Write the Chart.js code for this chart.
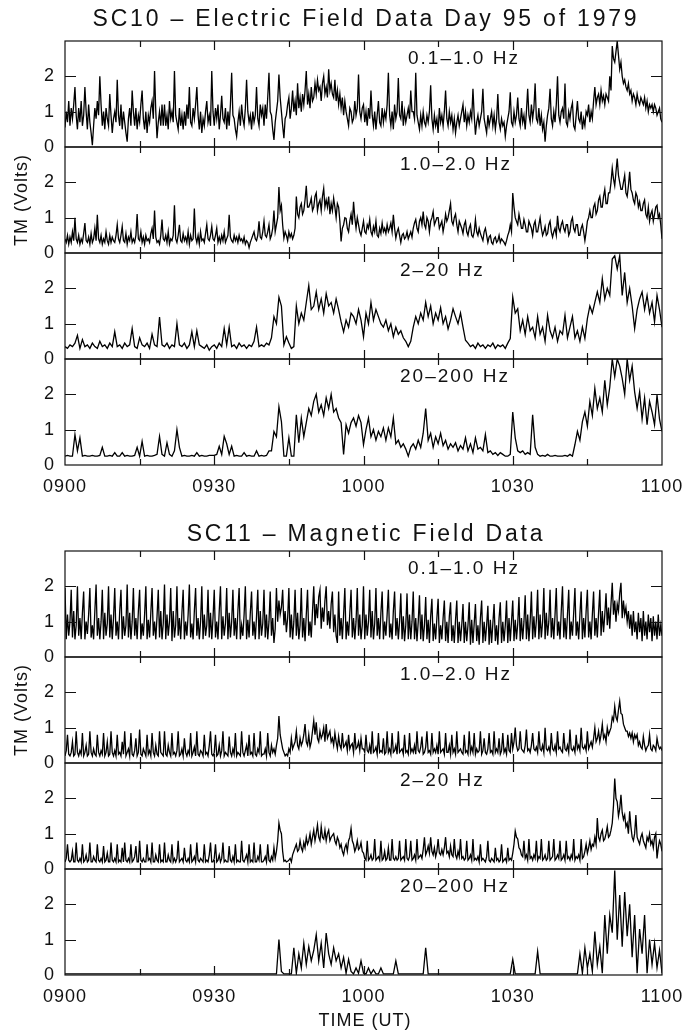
<!DOCTYPE html>
<html><head><meta charset="utf-8">
<script src="https://cdn.jsdelivr.net/npm/chart.js@4.4.0/dist/chart.umd.min.js"></script>
<style>
html,body{margin:0;padding:0;background:#fff;}
#page{position:relative;width:688px;height:1030px;overflow:hidden;font-family:'Liberation Sans',Arial,sans-serif;color:#111;}
canvas{position:absolute;left:0;}
.t{position:absolute;white-space:nowrap;transform:translate(-50%,-50%);}
.pl{position:absolute;white-space:nowrap;font-size:19px;letter-spacing:2px;line-height:20px;}
</style></head><body><div id="page"></div>
<script>
// ---- time axes (minutes after 09:00 UT) ----
const TIME_FINE = Array.from({length: 481}, (_, i) => i * 0.25);   // every 15 s
const TIME_COARSE = Array.from({length: 241}, (_, i) => i * 0.5);  // every 30 s
const X_LABEL_MIN = [0, 30, 60, 90, 120];
const X_LABELS = ['0900', '0930', '1000', '1030', '1100'];
const X_TICK_MIN = [15, 30, 45, 60, 75, 90, 105];
const Y_TICKS = [1, 2];
const BANDS = ['0.1–1.0 Hz', '1.0–2.0 Hz', '2–20 Hz', '20–200 Hz'];

// ---- SC10 electric field (TM volts) ----
const E_01_1 = [ // 15 s samples
0.55,1.0,0.7,1.3,0.6,1.1,0.8,1.2,1.7,0.9, 0.5,1.1,0.7,1.3,0.6,0.9,1.7,1.0,0.5,1.2, 0.7,0.4,0.05,0.6,1.1,0.8,1.3,0.9,2.0,1.2, 0.6,1.0,0.5,1.1,0.8,0.6,1.5,0.9,0.4,0.8,
1.0,0.7,1.9,0.9,0.6,1.2,0.5,1.0,0.7,0.4, 0.15,0.8,1.1,0.6,1.6,1.0,0.6,1.1,0.5,0.9, 0.7,1.2,1.6,0.8,0.5,1.0,0.4,0.9,0.7,1.1, 1.3,0.8,2.15,1.0,0.25,0.7,1.0,0.6,1.2,0.6,
1.2,0.6,0.9,0.5,1.3,0.8,1.0,0.7,2.15,0.9, 0.7,0.5,1.1,0.6,0.9,0.5,1.0,0.6,1.2,0.8, 1.7,0.7,0.6,1.1,0.8,1.2,1.7,0.9,0.5,1.0, 0.4,0.8,0.6,1.0,1.3,0.7,0.9,0.6,2.15,1.0,
0.6,1.1,0.8,1.2,0.5,0.9,1.45,0.8,0.7,1.1, 0.5,1.0,0.6,1.2,2.1,0.9,0.8,0.5,0.3,0.7, 1.0,0.6,1.2,0.8,0.6,1.1,1.9,1.0,0.7,0.9, 0.5,1.0,0.7,0.9,1.7,0.8,0.6,1.2,0.9,1.1,
0.6,1.2,0.8,1.4,2.1,1.0,0.9,0.5,0.2,0.7, 1.0,1.3,2.05,1.4,1.0,0.6,0.25,0.8,0.9,1.2, 1.4,0.8,1.1,1.6,1.0,1.3,0.9,1.8,1.1,1.4, 1.0,1.5,1.2,1.6,2.15,1.2,1.5,1.1,1.7,1.3,
1.4,1.8,1.5,1.9,1.6,1.7,1.3,1.8,2.0,1.5, 1.7,1.4,2.2,1.6,1.8,1.5,1.4,1.9,1.3,1.6, 1.2,1.5,1.1,1.4,0.9,1.3,1.0,0.8,0.6,1.1, 1.0,0.7,0.8,1.3,0.9,1.1,2.05,1.0,0.8,1.1,
1.2,0.7,1.0,0.6,1.1,0.8,1.6,0.9,0.6,1.0, 0.5,0.9,1.3,0.7,0.6,1.1,0.7,1.0,0.8,1.2, 2.1,0.9,0.6,1.0,0.5,1.2,0.8,1.0,1.95,0.9, 0.8,1.3,0.6,1.0,0.7,0.9,1.1,0.8,1.6,1.0,
1.0,0.8,2.1,0.9,0.7,0.5,0.9,0.6,1.0,0.7, 0.6,0.9,0.7,1.0,1.75,0.8,0.5,0.9,0.6,0.8, 0.4,1.1,0.7,0.9,0.6,1.0,1.6,0.8,0.6,1.0, 0.7,0.9,0.5,0.8,0.4,0.7,0.9,0.6,0.8,1.0,
1.2,0.7,1.0,0.6,0.9,0.7,1.0,0.8,1.65,0.9, 0.35,0.7,0.9,0.6,0.8,1.0,1.65,0.8,0.6,0.4, 0.9,0.6,0.8,1.0,0.6,0.9,0.5,0.8,1.5,0.7, 0.5,0.8,0.6,0.7,0.3,0.6,0.8,1.0,1.55,0.7,
0.6,1.0,0.7,0.9,1.4,0.8,0.6,1.1,0.7,0.9, 0.5,1.0,1.65,0.9,0.7,1.2,0.8,1.1,1.8,0.8, 0.7,1.1,0.6,0.9,0.5,0.7,0.15,0.6,0.9,1.1, 1.65,0.8,0.6,1.0,0.7,1.2,2.0,0.9,0.7,1.0,
1.1,0.8,1.8,0.7,0.6,1.0,0.8,1.1,1.25,0.6, 0.5,0.9,1.3,0.8,0.7,1.0,0.5,0.8,0.6,1.0, 0.9,1.2,0.7,1.0,0.8,1.3,1.7,1.2,1.4,1.5, 1.2,1.6,1.3,1.45,1.2,1.5,1.4,1.3,2.0,1.6,
2.86,2.5,2.4,2.7,3.0,2.6,2.2,2.4,2.0,1.8, 1.9,1.7,1.6,1.8,1.5,1.6,1.3,1.5,1.4,1.2, 1.5,1.3,1.2,1.4,1.3,1.2,1.4,1.1,1.3,1.0, 1.2,1.1,1.2,1.0,1.2,1.1,0.9,1.0,1.1,0.8,
0.7];
const E_1_2 = [ // 15 s samples
0.4,0.3,0.5,0.25,0.45,0.3,0.6,0.35,1.0,0.4, 0.3,0.5,0.25,0.4,0.3,0.55,0.85,0.35,0.3,0.45, 0.25,0.55,0.3,0.4,0.7,0.35,1.08,0.4,0.3,0.5, 0.25,0.4,0.3,0.6,0.35,0.25,0.5,0.3,0.45,0.35,
0.3,0.5,0.8,0.4,0.3,0.5,0.75,0.35,0.3,0.55, 0.25,0.45,0.35,0.6,0.3,0.4,0.3,0.5,1.1,0.4, 0.35,0.6,0.3,0.45,0.25,0.5,0.35,0.4,0.3,0.55, 0.7,0.4,1.2,0.45,0.3,0.35,0.25,0.5,0.95,0.4,
0.35,0.5,0.3,0.6,0.25,0.4,0.35,0.5,1.35,0.4, 0.3,0.5,0.8,0.35,0.3,0.55,0.35,0.45,0.3,0.6, 0.25,0.5,0.35,0.4,1.26,0.45,0.3,0.5,0.25,0.6, 0.35,0.4,0.3,0.55,0.8,0.4,0.35,0.5,0.75,0.4,
0.35,0.5,0.7,0.3,0.45,0.3,0.5,0.35,0.6,0.3, 0.4,0.5,1.08,0.45,0.35,0.3,0.5,0.35,0.45,0.3, 0.5,0.35,0.4,0.3,0.45,0.25,0.35,0.3,0.15,0.3, 0.4,0.5,0.6,0.4,0.35,0.5,0.9,0.45,0.4,0.6,
0.9,0.5,0.45,0.6,0.8,0.4,0.5,0.7,1.2,0.6, 0.8,1.0,1.87,1.2,1.35,0.8,0.42,0.6,0.5,0.35, 0.6,0.45,0.55,0.4,0.5,0.7,1.6,1.1,1.0,1.3, 1.4,1.1,1.2,1.5,1.9,1.3,1.3,1.4,1.55,1.2,
1.3,1.6,1.7,1.2,1.4,1.5,1.2,1.6,1.83,1.3, 1.5,1.3,1.6,1.1,1.4,1.2,1.55,1.3,1.0,1.4, 1.3,0.9,0.33,0.7,0.8,1.0,0.98,0.7,0.6,0.9, 1.1,0.8,1.45,1.0,0.7,1.0,0.8,0.6,0.5,0.7,
0.9,0.6,0.55,0.8,0.7,0.95,0.6,0.5,0.75,0.6, 0.9,0.5,0.45,0.7,0.55,0.85,0.6,0.7,0.55,0.8, 0.6,0.7,0.85,0.6,1.08,0.7,0.42,0.6,0.7,0.5, 0.3,0.5,0.55,0.4,0.45,0.6,0.4,0.5,0.6,0.45,
0.7,0.85,0.95,0.7,0.6,0.9,1.0,0.8,1.17,0.8, 0.7,1.0,0.9,0.6,0.9,1.0,1.17,0.8,0.9,1.0, 1.0,0.7,0.8,0.9,0.6,0.8,1.1,0.9,1.0,1.2, 1.4,0.9,0.8,1.0,1.1,0.8,0.6,0.9,0.8,0.7,
0.55,0.8,0.9,0.6,0.5,0.7,0.8,0.5,0.45,0.6, 0.95,0.6,0.5,0.7,0.55,0.45,0.35,0.6,0.7,0.5, 0.3,0.45,0.5,0.3,0.25,0.4,0.45,0.3,0.35,0.5, 0.3,0.4,0.35,0.3,0.23,0.35,0.5,0.6,0.8,0.6,
1.7,1.3,1.0,0.9,0.8,1.1,0.9,0.7,0.7,0.95, 0.8,0.6,0.6,0.9,0.8,0.7,0.5,0.8,0.9,0.6, 0.6,0.8,1.0,0.7,0.5,0.6,0.75,0.5,0.55,0.8, 0.9,0.6,0.45,0.6,0.7,0.5,1.05,0.7,0.6,0.8,
0.9,0.7,0.6,0.8,0.8,0.5,0.6,0.9,1.0,0.7, 0.6,0.8,0.8,0.5,0.5,0.7,0.8,0.6,0.35,0.6, 0.9,1.0,1.2,1.0,1.0,1.3,1.4,1.1,1.2,1.5, 1.6,1.3,1.3,1.6,1.8,1.4,1.4,1.7,1.7,2.0,
2.4,2.1,1.9,2.3,2.67,2.2,2.0,1.8,1.8,2.0, 2.2,1.7,1.6,1.9,2.3,1.8,1.7,1.5,1.4,1.7, 1.6,1.3,1.45,1.2,1.2,1.4,1.5,1.1,1.0,1.3, 0.9,1.1,1.2,0.9,1.1,1.3,1.35,1.0,1.1,0.8,
0.4];
const E_2_20 = [ // 30 s samples
0.35,0.3,0.4,0.35,0.45,0.67,0.3,0.55,0.35,0.4,0.3,0.45,0.35,0.3,0.5,0.35,0.4,0.3,0.45,0.35,
0.77,0.35,0.4,0.3,0.45,0.35,0.4,0.86,0.35,0.3,0.6,0.4,0.35,0.45,0.3,0.7,0.4,0.35,1.19,0.4,
0.35,0.45,0.3,0.4,0.35,1.0,0.4,0.35,0.45,0.3,0.4,0.77,0.35,0.8,0.4,0.35,0.3,0.4,0.25,0.35,
0.4,0.3,0.45,0.35,0.86,0.4,0.9,0.35,0.4,0.3,0.45,0.35,0.4,0.3,0.4,0.35,0.5,0.9,0.35,0.4,
0.35,0.45,0.4,0.6,1.2,1.0,1.75,1.5,0.4,0.63,0.45,0.3,0.35,1.5,1.0,1.3,1.1,1.6,2.08,1.4,
1.5,1.9,1.4,1.7,1.3,1.85,1.5,1.6,1.3,1.7,1.4,1.05,0.77,1.1,0.9,1.3,1.2,1.0,1.4,1.1,
0.63,1.3,1.0,1.6,1.1,1.4,1.2,1.0,0.9,1.1,0.8,1.0,0.63,0.9,0.7,0.8,0.6,0.5,0.35,0.5,
0.9,1.2,1.0,1.3,1.1,1.6,1.2,1.5,1.0,1.3,1.1,1.45,1.0,1.2,0.85,1.1,1.42,1.2,1.0,1.3,
0.9,0.53,0.45,0.35,0.4,0.3,0.45,0.35,0.4,0.3,0.4,0.35,0.45,0.3,0.4,0.35,0.4,0.3,0.45,0.58,
1.75,1.3,1.42,0.8,1.1,0.7,1.2,0.8,0.9,0.6,1.2,0.7,0.9,0.5,1.24,0.8,0.6,0.9,0.5,0.8,
0.7,1.24,0.6,0.9,1.2,0.6,0.8,0.5,0.9,0.58,1.14,1.5,1.3,1.6,1.9,1.6,2.27,1.7,2.0,1.8,
2.83,2.92,2.55,2.92,1.8,2.45,1.6,2.0,1.5,0.86,1.4,1.7,1.9,1.4,1.8,1.3,1.6,1.05,1.8,1.4,
0.9];
const E_20_200 = [ // 30 s samples
0.25,0.27,0.25,0.25,0.86,0.4,0.77,0.25,0.27,0.25,0.25,0.27,0.25,0.25,0.27,0.5,0.25,0.25,0.27,0.25,
0.35,0.25,0.25,0.35,0.25,0.27,0.25,0.25,0.27,0.5,0.25,0.67,0.25,0.27,0.25,0.25,0.27,0.3,0.81,0.3,
0.25,0.63,0.3,0.25,0.4,1.0,0.5,0.25,0.27,0.25,0.25,0.27,0.25,0.35,0.25,0.27,0.25,0.25,0.27,0.27,
0.27,0.3,0.53,0.3,0.81,0.6,0.3,0.53,0.25,0.27,0.25,0.25,0.35,0.25,0.27,0.25,0.25,0.4,0.25,0.27,
0.25,0.27,0.4,0.4,0.95,0.8,1.65,1.23,0.25,0.25,0.77,0.25,0.25,1.42,0.63,1.33,0.8,1.2,1.6,1.4,
1.8,2.0,1.5,1.7,1.4,1.9,1.6,2.0,1.5,1.6,1.33,1.2,0.3,1.14,0.9,1.2,1.33,1.1,1.4,1.2,
0.58,1.0,1.33,0.8,1.0,0.7,0.95,0.8,1.05,0.7,1.05,0.8,1.33,0.6,0.7,0.5,0.6,0.45,0.25,0.5,
0.6,0.45,0.7,0.5,0.9,1.6,0.7,0.9,0.5,0.8,0.6,0.9,0.55,0.7,0.45,0.6,0.5,0.63,0.4,0.55,
0.45,0.77,0.4,0.6,0.35,0.77,0.45,0.5,0.4,0.86,0.35,0.4,0.3,0.35,0.27,0.35,0.3,0.25,0.25,0.3,
1.5,0.77,0.4,0.35,0.4,0.3,0.35,0.3,1.42,0.5,0.3,0.25,0.27,0.25,0.3,0.25,0.25,0.27,0.25,0.25,
0.25,0.27,0.25,0.3,0.25,0.58,0.95,0.7,1.23,1.5,1.1,1.8,1.4,2.17,1.6,1.9,1.5,2.4,1.7,2.2,
3.0,2.5,3.0,2.8,2.45,2.0,3.0,2.4,2.8,2.07,1.6,2.07,1.3,1.9,1.14,1.8,1.5,1.14,1.98,1.3,
0.95];

// ---- SC11 magnetic field (TM volts) ----
const B_01_1 = [ // 15 s samples
1.95,0.5,1.2,0.6,1.0,1.9,0.55,1.3,0.5,0.9, 2.0,0.6,1.1,0.5,1.25,1.85,0.5,1.0,0.65,1.2, 1.95,0.55,0.9,0.5,1.3,2.05,0.6,1.1,0.5,1.0, 1.9,0.5,1.25,0.6,0.95,2.0,0.55,1.2,0.5,1.1,
1.95,0.6,1.0,0.5,1.3,1.9,0.5,1.15,0.6,0.9, 2.05,0.55,1.25,0.5,1.0,1.95,0.6,1.1,0.5,1.3, 1.9,0.5,0.95,0.6,1.2,2.0,0.5,1.05,0.55,1.25, 1.95,0.6,1.0,0.5,1.15,1.9,0.55,1.3,0.5,0.95,
2.05,0.5,1.2,0.6,1.0,1.95,0.45,1.3,0.55,0.9, 2.0,0.6,1.1,0.5,1.25,1.9,0.5,1.0,0.6,1.2, 2.05,0.55,0.95,0.5,1.3,1.95,0.6,1.1,0.5,1.0, 2.0,0.5,1.2,0.6,0.9,1.9,0.55,1.25,0.5,1.1,
1.9,0.55,1.0,0.5,1.3,2.0,0.5,1.15,0.6,0.95, 1.95,0.5,1.25,0.55,1.0,1.9,0.6,1.1,0.5,1.3, 1.95,0.5,0.9,0.6,1.2,2.0,0.5,1.05,0.55,1.25, 1.85,0.6,1.0,0.5,1.15,1.9,0.5,1.3,0.6,0.95,
1.9,0.55,1.2,0.5,1.0,1.85,0.6,1.1,0.4,0.8, 1.95,1.0,1.6,1.2,1.4,1.9,0.9,1.3,0.7,1.1, 1.95,0.55,1.2,0.5,1.0,1.9,0.6,1.25,0.5,0.9, 1.95,0.55,1.1,0.45,1.2,1.9,0.6,1.0,0.55,1.3,
2.0,0.9,1.5,1.1,1.7,1.9,0.8,1.4,1.0,1.6, 2.0,0.9,1.3,0.8,1.5,1.85,0.7,1.2,0.6,0.4, 1.85,0.6,1.1,0.5,1.2,1.95,0.5,1.0,0.6,1.25, 1.9,0.55,1.1,0.5,1.0,1.95,0.6,1.2,0.5,0.9,
2.0,0.5,1.2,0.6,1.0,1.9,0.55,1.3,0.5,0.95, 1.95,0.6,1.1,0.5,1.25,1.85,0.5,1.0,0.6,1.2, 1.9,0.55,0.95,0.5,1.3,1.85,0.6,1.1,0.5,1.0, 1.8,0.5,1.15,0.45,0.9,1.8,0.5,1.2,0.5,1.0,
1.85,0.5,1.1,0.45,1.0,1.75,0.5,1.2,0.45,0.9, 1.7,0.5,1.05,0.4,1.15,1.65,0.45,0.95,0.5,1.1, 1.65,0.4,0.9,0.5,1.1,1.6,0.45,1.0,0.4,1.15, 1.55,0.45,0.9,0.4,1.05,1.6,0.4,1.0,0.45,0.9,
1.5,0.4,1.0,0.45,0.9,1.55,0.35,1.05,0.4,0.95, 1.5,0.45,0.9,0.35,1.1,1.6,0.4,1.0,0.45,0.9, 1.45,0.35,1.05,0.4,0.95,1.5,0.45,0.9,0.35,1.1, 1.55,0.4,1.0,0.45,0.9,1.6,0.4,1.1,0.45,1.0,
1.6,0.45,1.05,0.5,0.95,1.7,0.45,1.1,0.5,1.0, 1.75,0.5,1.2,0.45,1.0,1.85,0.5,1.15,0.55,1.05, 1.9,0.5,1.2,0.55,1.0,1.95,0.5,1.25,0.6,1.0, 1.9,0.55,1.1,0.5,1.2,1.95,0.6,1.0,0.5,1.3,
2.0,0.55,1.1,0.5,1.2,1.9,0.5,1.0,0.6,1.25, 1.95,0.6,1.0,0.5,1.2,1.85,0.5,1.1,0.55,1.3, 1.9,0.55,1.0,0.5,1.2,1.85,0.6,1.1,0.55,1.25, 1.9,0.6,1.3,0.7,1.2,1.8,0.9,1.4,0.8,1.5,
2.1,1.2,1.6,1.0,1.5,1.3,1.8,2.1,1.1,1.6, 1.2,1.4,1.0,1.3,0.8,1.2,0.6,1.3,0.7,1.0, 0.5,1.25,0.7,1.1,0.45,1.3,0.6,1.0,0.5,1.2, 0.7,1.1,0.45,1.15,0.6,1.0,0.5,1.2,0.6,0.9,
0.6];
const B_1_2 = [ // 15 s samples
0.2,0.35,0.8,0.25,0.2,0.3,0.6,0.2,0.25,0.9, 0.3,0.2,0.35,0.25,0.85,0.2,0.3,0.5,0.2,0.25, 0.9,0.3,0.2,0.4,0.25,0.2,0.8,0.3,0.2,0.35, 0.25,0.85,0.2,0.3,0.6,0.2,0.25,0.9,0.3,0.2,
0.35,0.2,0.8,0.25,0.3,0.2,0.6,0.25,0.9,0.2, 0.3,0.4,0.2,0.85,0.25,0.2,0.35,0.7,0.2,0.3, 0.95,0.25,0.2,0.4,0.3,0.2,0.8,0.25,0.35,0.2, 0.85,0.3,0.2,0.5,0.25,0.2,0.9,0.3,0.25,0.2,
0.9,0.25,0.2,0.5,0.3,0.2,0.85,0.25,0.3,0.2, 0.35,0.9,0.2,0.25,0.4,0.2,0.7,0.3,0.2,0.35, 0.25,0.85,0.2,0.3,0.45,0.2,0.9,0.25,0.2,0.35, 0.3,0.2,0.8,0.25,0.3,0.2,0.5,0.9,0.25,0.2,
0.3,0.8,0.2,0.25,0.5,0.2,0.35,0.9,0.2,0.3, 0.25,0.2,0.75,0.3,0.2,0.4,0.25,0.85,0.2,0.3, 0.25,0.2,0.9,0.3,0.2,0.35,0.5,0.2,0.8,0.25, 0.3,0.2,0.85,0.25,0.2,0.4,0.3,0.9,0.2,0.25,
0.25,0.4,0.2,0.85,0.3,0.2,0.5,0.3,0.4,0.25, 0.5,0.7,1.33,0.8,0.6,0.4,0.3,0.2,0.25,0.2, 0.4,0.3,0.7,0.4,0.5,0.6,0.9,0.5,0.4,0.7, 0.5,0.6,0.8,1.1,0.6,0.5,0.8,0.45,0.6,0.9,
1.2,0.8,1.15,0.7,0.6,0.9,0.7,0.8,1.0,0.6, 1.1,0.7,0.8,0.9,0.6,0.7,0.5,0.85,0.6,0.4, 0.75,0.5,0.4,0.85,0.45,0.5,0.6,0.35,0.8,0.4, 0.5,0.55,0.3,0.85,0.4,0.45,0.6,0.35,0.7,0.4,
0.4,0.3,0.8,0.35,0.3,0.5,0.25,0.9,0.3,0.35, 0.45,0.25,0.85,0.3,0.35,0.3,0.7,0.25,0.3,0.9, 0.3,0.4,0.25,0.85,0.3,0.35,0.5,0.25,0.9,0.3, 0.35,0.4,0.25,0.8,0.3,0.35,0.25,0.85,0.3,0.4,
0.3,0.5,0.25,0.9,0.35,0.3,0.45,0.75,0.25,0.3, 0.45,0.9,0.3,0.35,0.25,0.85,0.3,0.4,0.3,0.5, 0.25,0.9,0.3,0.35,0.4,0.25,0.85,0.3,0.3,0.5, 0.25,0.8,0.3,0.4,0.25,0.9,0.3,0.35,0.4,0.3,
0.25,0.8,0.3,0.35,0.25,0.9,0.3,0.45,0.3,0.85, 0.25,0.4,0.3,0.35,0.9,0.25,0.35,0.7,0.3,0.25, 0.4,0.85,0.3,0.35,0.25,0.9,0.3,0.4,0.3,0.7, 0.25,0.35,0.85,0.3,0.4,0.25,0.8,0.35,0.3,0.85,
0.4,0.6,1.0,0.5,0.35,0.4,0.9,0.4,0.35,0.3, 0.5,0.95,0.35,0.4,0.3,0.5,0.85,0.4,0.35,0.45, 0.3,0.9,0.4,0.35,0.5,0.3,1.0,0.4,0.35,0.45, 0.3,0.85,0.4,0.35,0.5,0.3,0.9,0.4,0.45,0.35,
0.3,0.85,0.4,0.35,0.5,0.3,0.95,0.4,0.35,0.45, 0.3,0.8,0.4,0.5,0.35,1.0,0.45,0.4,0.5,0.35, 0.9,0.4,0.5,0.6,0.45,0.7,1.0,0.6,0.7,0.9, 0.6,0.8,1.1,0.7,0.8,0.6,1.0,0.8,0.9,1.0,
1.3,1.2,1.6,1.3,1.2,1.5,1.75,1.4,1.37,1.1, 1.0,0.9,0.9,0.75,0.85,0.7,0.85,0.6,0.8,0.7, 0.8,0.5,0.6,0.45,0.4,0.75,0.5,0.35,0.45,0.5, 0.8,0.4,0.35,0.5,0.45,0.35,0.7,0.5,0.4,0.45,
0.35];
const B_2_20 = [ // 15 s samples
0.2,0.3,0.7,0.25,0.2,0.25,0.5,0.2,0.2,0.75, 0.25,0.2,0.3,0.2,0.7,0.2,0.25,0.4,0.2,0.25, 0.75,0.2,0.2,0.35,0.25,0.2,0.7,0.25,0.2,0.3, 0.2,0.65,0.2,0.25,0.45,0.2,0.2,0.75,0.25,0.2,
0.3,0.2,0.7,0.2,0.25,0.2,0.6,0.2,0.75,0.25, 0.2,0.3,0.2,0.7,0.2,0.25,0.35,0.65,0.2,0.2, 0.8,0.25,0.2,0.3,0.2,0.2,0.7,0.25,0.3,0.2, 0.75,0.2,0.2,0.4,0.25,0.2,0.7,0.2,0.25,0.2,
0.75,0.2,0.2,0.4,0.25,0.2,0.7,0.2,0.3,0.2, 0.3,0.8,0.2,0.25,0.3,0.2,0.6,0.25,0.2,0.3, 0.2,0.7,0.2,0.25,0.35,0.2,0.75,0.25,0.2,0.3, 0.25,0.2,0.7,0.2,0.25,0.2,0.4,0.75,0.2,0.2,
0.3,0.7,0.2,0.25,0.4,0.2,0.3,0.75,0.2,0.25, 0.2,0.2,0.65,0.25,0.2,0.35,0.2,0.7,0.2,0.25, 0.2,0.2,0.8,0.25,0.2,0.3,0.4,0.2,0.7,0.2, 0.25,0.2,0.75,0.2,0.2,0.35,0.25,0.7,0.2,0.2,
0.25,0.35,0.2,0.7,0.25,0.2,0.35,0.25,0.6,0.3, 0.5,0.8,1.3,1.1,1.0,0.5,0.22,0.25,0.2,0.22, 0.25,0.3,0.2,0.4,0.5,0.6,0.7,0.5,0.55,0.8, 0.6,0.5,0.75,0.6,0.9,0.7,0.8,1.0,0.7,0.9,
1.1,0.8,1.0,1.25,0.9,0.8,1.2,0.9,0.85,1.1, 0.8,1.0,1.1,0.8,0.9,0.95,1.0,0.8,0.7,0.9, 0.8,0.6,0.7,0.5,0.4,0.6,0.7,0.5,0.8,0.9, 1.15,0.8,0.7,0.5,0.6,0.8,0.55,0.6,0.75,0.5,
0.45,0.3,0.25,0.8,0.25,0.3,0.4,0.25,0.3,0.85, 0.25,0.3,0.35,0.25,0.8,0.25,0.3,0.5,0.25,0.3, 0.6,0.25,0.25,0.85,0.3,0.25,0.35,0.25,0.3,0.8, 0.25,0.3,0.35,0.25,0.85,0.3,0.25,0.35,0.8,0.25,
0.3,0.4,0.25,0.85,0.3,0.35,0.4,0.3,0.55,0.9, 0.4,0.5,0.65,0.45,0.9,0.5,0.4,0.6,0.35,0.5, 0.85,0.45,0.4,0.55,0.4,0.6,0.9,0.45,0.5,0.35, 0.65,0.4,0.35,0.85,0.4,0.3,0.5,0.35,0.85,0.3,
0.35,0.25,0.3,0.8,0.25,0.3,0.4,0.25,0.85,0.25, 0.3,0.25,0.35,0.2,0.7,0.25,0.3,0.25,0.2,0.35, 0.8,0.25,0.2,0.3,0.25,0.2,0.6,0.25,0.3,0.2, 0.25,0.7,0.2,0.25,0.3,0.2,0.6,0.25,0.3,0.25,
0.45,0.7,1.07,0.9,0.85,0.6,0.55,0.4,0.35,0.8, 0.3,0.4,0.25,0.85,0.3,0.35,0.25,0.4,0.3,0.8, 0.25,0.35,0.3,0.85,0.25,0.3,0.4,0.25,0.3,0.8, 0.25,0.3,0.35,0.85,0.25,0.3,0.4,0.3,0.8,0.25,
0.3,0.4,0.25,0.8,0.3,0.35,0.25,0.4,0.3,0.85, 0.25,0.35,0.3,0.4,0.25,0.85,0.3,0.35,0.5,0.7, 0.45,0.6,0.8,0.55,0.7,0.65,0.9,0.7,1.44,0.9, 0.8,1.0,1.1,0.8,0.85,1.0,1.2,0.9,0.95,1.1,
1.3,1.8,2.56,2.0,1.9,1.5,1.7,2.1,1.6,1.4, 1.53,1.2,1.3,1.0,1.63,1.2,0.9,0.8,1.0,1.53, 0.9,0.8,0.7,0.9,1.0,0.8,0.7,0.6,0.9,0.8, 1.0,0.7,0.8,0.6,0.9,1.0,0.3,0.6,0.8,0.7,
0.5];
const B_20_200 = [ // 30 s samples
0.03,0.03,0.03,0.03,0.03,0.03,0.03,0.03,0.03,0.03,0.03,0.03,0.03,0.03,0.03,0.03,0.03,0.03,0.03,0.03,
0.03,0.03,0.03,0.03,0.03,0.03,0.03,0.03,0.03,0.03,0.03,0.03,0.03,0.03,0.03,0.03,0.03,0.03,0.03,0.03,
0.03,0.03,0.03,0.03,0.03,0.03,0.03,0.03,0.03,0.03,0.03,0.03,0.03,0.03,0.03,0.03,0.03,0.03,0.03,0.03,
0.03,0.03,0.03,0.03,0.03,0.03,0.03,0.03,0.03,0.03,0.03,0.03,0.03,0.03,0.03,0.03,0.03,0.03,0.03,0.03,
0.03,0.03,0.03,0.03,0.03,0.03,1.0,0.1,0.03,0.03,0.03,0.03,0.77,0.05,0.6,0.2,0.9,0.3,0.8,0.4,
0.7,1.14,0.4,0.9,0.2,1.19,0.6,0.3,0.77,0.4,0.6,0.2,0.5,0.05,0.44,0.1,0.03,0.2,0.05,0.4,
0.05,0.03,0.2,0.03,0.15,0.03,0.03,0.2,0.03,0.03,0.03,0.03,0.03,0.4,0.03,0.03,0.03,0.03,0.03,0.03,
0.03,0.03,0.03,0.03,0.03,0.77,0.03,0.03,0.03,0.03,0.03,0.03,0.03,0.03,0.03,0.03,0.03,0.03,0.03,0.03,
0.03,0.03,0.03,0.03,0.03,0.03,0.03,0.03,0.03,0.03,0.03,0.03,0.03,0.03,0.03,0.03,0.03,0.03,0.03,0.03,
0.44,0.03,0.03,0.03,0.03,0.03,0.03,0.03,0.03,0.03,0.67,0.03,0.03,0.03,0.03,0.03,0.03,0.03,0.03,0.03,
0.03,0.03,0.03,0.03,0.03,0.03,0.03,0.6,0.05,0.77,0.2,0.6,0.1,1.23,0.3,0.8,0.05,1.7,0.6,1.7,
1.2,2.96,1.0,2.26,0.8,2.35,1.1,2.0,0.5,1.7,0.05,1.3,0.6,1.7,0.05,1.0,0.3,0.9,0.2,0.7,
0.05];

// ---- layout ----
const PAGE = document.getElementById('page');
const FONT = "'Liberation Sans', Arial, sans-serif";
const INK = '#111';
const PANEL_H = 106;
const PAD = 22;
const CANVAS_W = 708;   // extends past the page edge so the right-hand label padding never shrinks the plot
const PAD_RIGHT = CANVAS_W - 662;
const GROUPS = [
  { tops: [41, 147, 253, 359],
    series: [[E_01_1, TIME_FINE], [E_1_2, TIME_FINE], [E_2_20, TIME_COARSE], [E_20_200, TIME_COARSE]] },
  { tops: [551, 657, 763, 869],
    series: [[B_01_1, TIME_FINE], [B_1_2, TIME_FINE], [B_2_20, TIME_FINE], [B_20_200, TIME_COARSE]] }
];

Chart.defaults.font.family = FONT;
Chart.defaults.color = INK;

const framePlugin = {
  id: 'frame',
  beforeDraw(chart) { chart.ctx.letterSpacing = '1px'; },
  afterDatasetsDraw(chart) {
    const { ctx, chartArea: a, scales: { x, y } } = chart;
    ctx.save();
    ctx.strokeStyle = INK;
    ctx.lineWidth = 1.2;
    ctx.strokeRect(a.left, a.top, a.right - a.left, a.bottom - a.top);
    ctx.beginPath();
    X_TICK_MIN.forEach(v => {
      const px = Math.round(x.getPixelForValue(v)) + 0.5;
      const len = v % 30 === 0 ? 9 : 6;
      ctx.moveTo(px, a.top); ctx.lineTo(px, a.top + len);
      ctx.moveTo(px, a.bottom); ctx.lineTo(px, a.bottom - len);
    });
    Y_TICKS.forEach(v => {
      const py = Math.round(y.getPixelForValue(v)) + 0.5;
      ctx.moveTo(a.left, py); ctx.lineTo(a.left + 11, py);
      ctx.moveTo(a.right, py); ctx.lineTo(a.right - 11, py);
    });
    ctx.stroke();
    ctx.restore();
  }
};

function makePanel(top, values, times, isBottom) {
  const h = PAD + PANEL_H + (isBottom ? 40 : PAD);
  const cv = document.createElement('canvas');
  cv.width = CANVAS_W; cv.height = h;
  cv.style.top = (top - PAD) + 'px';
  PAGE.appendChild(cv);
  const xScale = {
    type: 'linear', min: 0, max: 120, display: isBottom,
    grid: { display: false, drawTicks: false }, border: { display: false },
    ticks: { stepSize: 30, padding: 11, color: INK, font: { size: 18 }, maxRotation: 0, autoSkip: false,
      callback: v => { const k = X_LABEL_MIN.indexOf(v); return k >= 0 ? X_LABELS[k] : ''; } }
  };
  if (isBottom) xScale.afterFit = s => { s.height = 40; };
  new Chart(cv, {
    type: 'line',
    data: { labels: times, datasets: [{ data: values, borderColor: '#000', borderWidth: 1.3, pointRadius: 0, tension: 0, fill: false }] },
    options: {
      responsive: false, animation: false, events: [],
      layout: { padding: { top: PAD, bottom: isBottom ? 0 : PAD, left: 0, right: PAD_RIGHT } },
      plugins: { legend: { display: false }, tooltip: { enabled: false }, title: { display: false } },
      scales: {
        x: xScale,
        y: {
          min: 0, max: 3,
          grid: { display: false, drawTicks: false }, border: { display: false },
          ticks: { stepSize: 1, padding: 10, color: INK, font: { size: 18 }, callback: v => (v === 3 ? '' : String(v)) },
          afterFit: s => { s.width = 65; }
        }
      }
    },
    plugins: [framePlugin]
  });
}

function addText(txt, cx, cy, size, spacing, rotate) {
  const d = document.createElement('div');
  d.className = 't';
  d.textContent = txt;
  d.style.left = cx + 'px'; d.style.top = cy + 'px';
  d.style.fontSize = size + 'px';
  d.style.letterSpacing = spacing + 'px';
  if (rotate) d.style.transform = 'translate(-50%,-50%) rotate(-90deg)';
  PAGE.appendChild(d);
}
function addBand(txt, left, cy) {
  const d = document.createElement('div');
  d.className = 'pl';
  d.textContent = txt;
  d.style.left = left + 'px'; d.style.top = (cy - 10) + 'px';
  PAGE.appendChild(d);
}

GROUPS.forEach(g => {
  g.tops.forEach((t, i) => {
    makePanel(t, g.series[i][0], g.series[i][1], i === 3);
    addBand(BANDS[i], i === 0 ? 408 : 400, t + 17);
  });
});

addText('SC10 – Electric Field Data Day 95 of 1979', 366, 18, 23, 2.8, false);
addText('SC11 – Magnetic Field Data', 366, 533, 23, 2.8, false);
addText('TM (Volts)', 21, 200, 18, 1, true);
addText('TM (Volts)', 21, 710, 18, 1, true);
addText('TIME (UT)', 365, 1020, 18, 1, false);

const bad = GROUPS.flatMap(g => g.series).filter(s => s[0].length !== s[1].length);
if (bad.length) { const d = document.createElement('div'); d.style.cssText = 'position:absolute;left:0;top:0;color:red'; d.textContent = 'LEN ' + bad.map(s => s[0].length + '/' + s[1].length).join(','); PAGE.appendChild(d); }
</script>
</body></html>
